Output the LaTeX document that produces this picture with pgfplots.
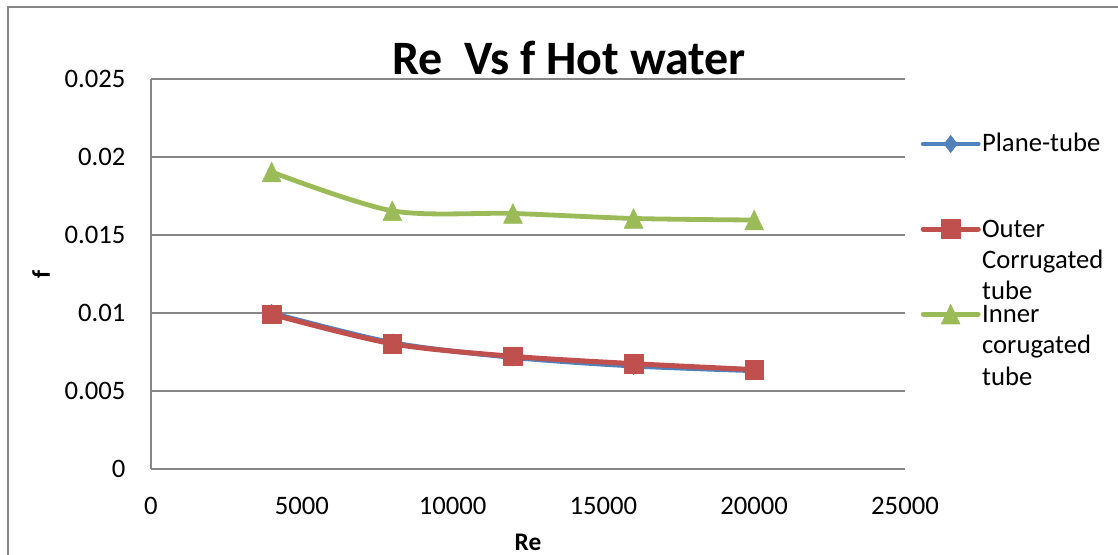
\documentclass[border=0pt]{standalone}
\usepackage{fontspec}
\setmainfont{Carlito}
\usepackage{pgfplots}
\pgfplotsset{compat=1.18}

\definecolor{xlblue}{HTML}{4F81BD}
\definecolor{xlred}{HTML}{C0504D}
\definecolor{xlgreen}{HTML}{9BBB59}
\definecolor{gridgray}{HTML}{878787}

% triangle marker centred on its bounding box
\pgfdeclareplotmark{xltri}{%
  \pgfpathmoveto{\pgfqpoint{0pt}{\pgfplotmarksize}}%
  \pgfpathlineto{\pgfqpoint{0.95\pgfplotmarksize}{-\pgfplotmarksize}}%
  \pgfpathlineto{\pgfqpoint{-0.95\pgfplotmarksize}{-\pgfplotmarksize}}%
  \pgfpathclose
  \pgfusepathqfillstroke
}

\newcommand{\legtext}[1]{\begin{tabular}[t]{@{}l@{}}#1\end{tabular}}

\begin{document}
\begin{tikzpicture}
\useasboundingbox (-113.25pt,-63.75pt) rectangle (725.25pt,351.75pt);
% chart frame
\draw[gridgray, line width=1.8pt] (-107.25pt,-80pt) -- (-107.25pt,346.5pt) -- (740pt,346.5pt);
\begin{axis}[
  at={(0pt,0pt)}, anchor=south west,
  scale only axis, width=565.5pt, height=292.5pt,
  xmin=0, xmax=25000, ymin=0, ymax=0.025,
  xtick={0,5000,10000,15000,20000,25000},
  xticklabels={0,5000,10000,15000,20000,25000},
  ytick={0,0.005,0.01,0.015,0.02,0.025},
  yticklabels={0,0.005,0.01,0.015,0.02,0.025},
  scaled ticks=false,
  axis x line*=bottom, axis y line*=left,
  axis line style={-, draw=gridgray, line width=1.3pt},
  ymajorgrids, grid style={draw=gridgray, line width=1.3pt},
  major tick length=0pt, tick style={draw=none},
  ticklabel style={font=\fontsize{20}{24}\selectfont},
  xticklabel style={anchor=north, inner sep=0pt, yshift=-21pt},
  yticklabel style={anchor=east, inner sep=0pt, xshift=-19pt},
  title={Re\ \ Vs f Hot water},
  title style={font=\bfseries\fontsize{36}{43}\selectfont,
    at={(axis description cs:0.5544,1)}, anchor=base, inner sep=0pt, yshift=-2.5pt},
  xlabel={Re},
  xlabel style={font=\bfseries\fontsize{19}{23}\selectfont,
    at={(axis description cs:0.5,0)}, anchor=base, inner sep=0pt, yshift=-60.75pt},
  ylabel={f},
  ylabel style={font=\bfseries\fontsize{19}{23}\selectfont,
    at={(axis description cs:-0.1459,0.5)}, anchor=center, inner sep=0pt},
  legend cell align=left,
  legend style={draw=none, fill=none, at={(axis description cs:1.0208,0.9424)},
    anchor=north west, inner sep=0pt, outer sep=0pt,
    font=\fontsize{20}{23.6}\selectfont, row sep=0pt, column sep=1pt,
    nodes={inner sep=0pt, text height=37.9pt, text depth=25.9pt}},
  legend image code/.code={%
    \draw[mark repeat=2, mark phase=2, line cap=round, #1]
      plot coordinates {(0pt,0pt) (20.6pt,0pt) (41.25pt,0pt)};},
]
\addplot[xlblue, line width=3.6pt, line join=round, smooth, tension=0.5,
  mark=diamond*, mark size=6.5pt,
  mark options={solid, fill=xlblue, draw=xlblue, line width=0.4pt}]
  coordinates {(4000,0.0100) (8000,0.0081) (12000,0.00715) (16000,0.0066) (20000,0.0063)};
\addlegendentry{\legtext{Plane-tube}}

\addplot[xlred, line width=3.8pt, line join=round, smooth, tension=0.5,
  mark=square*, mark size=7pt,
  mark options={solid, fill=xlred, draw=xlred, line width=0.4pt}]
  coordinates {(4000,0.00992) (8000,0.00803) (12000,0.00722) (16000,0.00675) (20000,0.00637)};
\addlegendentry{\legtext{Outer\\Corrugated\\tube}}

\addplot[xlgreen, line width=3.6pt, line join=round, smooth, tension=0.5,
  mark=xltri, mark size=7.4pt,
  mark options={solid, fill=xlgreen, draw=xlgreen, line width=0.4pt}]
  coordinates {(4000,0.01904) (8000,0.01655) (12000,0.01638) (16000,0.01606) (20000,0.01596)};
\addlegendentry{\legtext{Inner\\corugated\\tube}}
\end{axis}
\end{tikzpicture}
\end{document}
